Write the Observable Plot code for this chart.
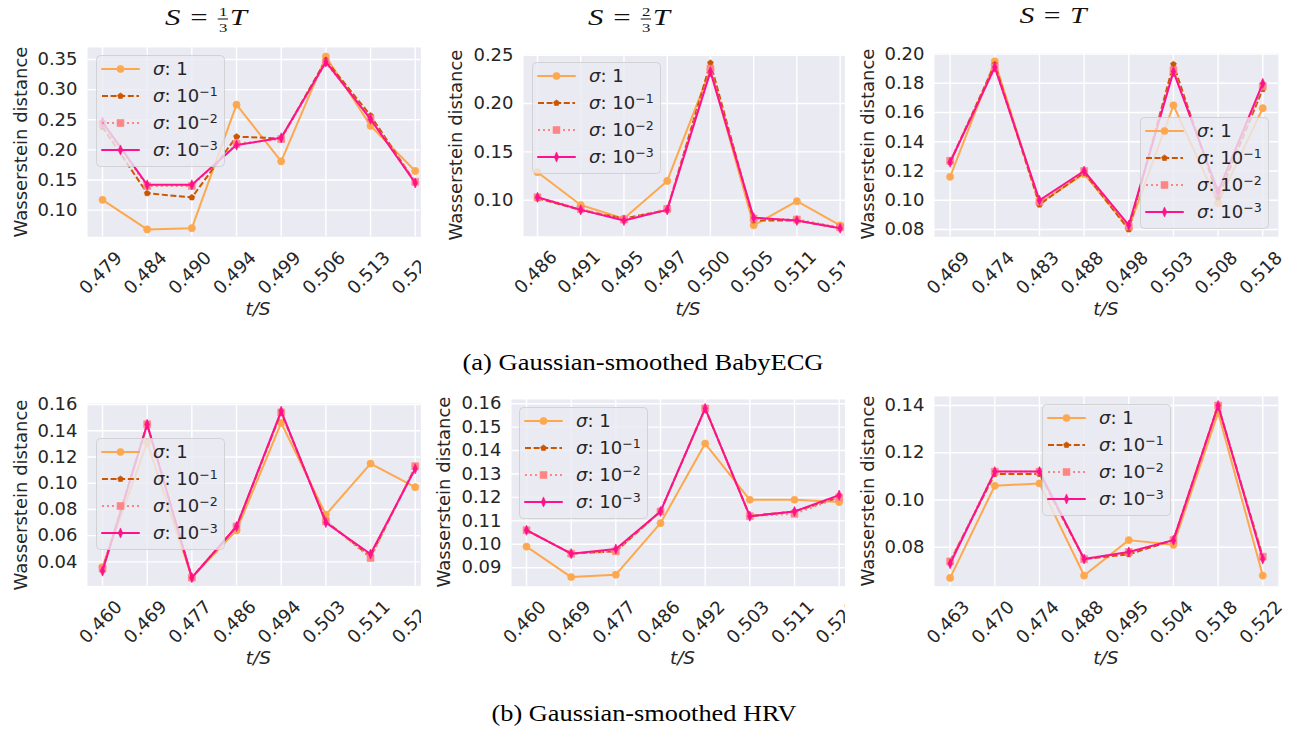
<!DOCTYPE html>
<html>
<head>
<meta charset="utf-8">
<script src="https://cdn.jsdelivr.net/npm/d3@7"></script>
<script src="https://cdn.jsdelivr.net/npm/@observablehq/plot@0.6"></script>
<style>
  html, body { margin: 0; padding: 0; background: #fff; }
  #root { position: relative; width: 1302px; height: 732px; overflow: hidden; background: #fff; font-family: "DejaVu Sans", sans-serif; color: #262626; }
  .ylab { position: absolute; font-size: 18px; line-height: 1; white-space: nowrap; transform: translate(-50%, -50%) rotate(-90deg); }
  .xlab { position: absolute; font-size: 18.5px; line-height: 1; white-space: nowrap; font-style: italic; transform: translate(-50%, -50%); }
  .title { position: absolute; display: flex; align-items: center; font-family: "Liberation Serif", serif; font-size: 24px; line-height: 1; white-space: nowrap; color: #111; }
  .title .frac { display: inline-flex; flex-direction: column; align-items: center; font-size: 13px; line-height: 1; margin: 6px 1px 0 0; }
  .title .frac .num { border-bottom: 0.7px solid #111; padding: 0 1px 1px; }
  .title .frac .den { padding-top: 1px; }
  .caption { position: absolute; font-family: "Liberation Serif", serif; font-size: 24px; line-height: 1; white-space: nowrap; color: #000; }
</style>
</head>
<body>
<div id="root"></div>
<script>
// ---------------- data ----------------
const xLabels1 = ["0.479","0.484","0.490","0.494","0.499","0.506","0.513","0.520"];
const xLabels2 = ["0.486","0.491","0.495","0.497","0.500","0.505","0.511","0.516"];
const xLabels3 = ["0.469","0.474","0.483","0.488","0.498","0.503","0.508","0.518"];
const xLabels4 = ["0.460","0.469","0.477","0.486","0.494","0.503","0.511","0.520"];
const xLabels5 = ["0.460","0.469","0.477","0.486","0.492","0.503","0.511","0.520"];
const xLabels6 = ["0.463","0.470","0.474","0.488","0.495","0.504","0.518","0.522"];

const yTicks1 = [0.10, 0.15, 0.20, 0.25, 0.30, 0.35];
const yTicks2 = [0.10, 0.15, 0.20, 0.25];
const yTicks3 = [0.08, 0.10, 0.12, 0.14, 0.16, 0.18, 0.20];
const yTicks4 = [0.04, 0.06, 0.08, 0.10, 0.12, 0.14, 0.16];
const yTicks5 = [0.09, 0.10, 0.11, 0.12, 0.13, 0.14, 0.15, 0.16];
const yTicks6 = [0.08, 0.10, 0.12, 0.14];

const sigmaLabels = ["1", "10", "10", "10"];
const sigmaExponents = ["", "\u22121", "\u22122", "\u22123"];

// (a) BabyECG, S = 1/3 T
const p1s1 = [0.117, 0.068, 0.070, 0.275, 0.181, 0.355, 0.240, 0.165];
const p1s2 = [0.238, 0.128, 0.121, 0.222, 0.219, 0.349, 0.257, 0.146];
const p1s3 = [0.243, 0.140, 0.140, 0.210, 0.218, 0.345, 0.252, 0.147];
const p1s4 = [0.246, 0.142, 0.142, 0.208, 0.220, 0.346, 0.251, 0.145];
// (a) BabyECG, S = 2/3 T
const p2s1 = [0.129, 0.095, 0.081, 0.120, 0.235, 0.074, 0.099, 0.074];
const p2s2 = [0.102, 0.090, 0.081, 0.090, 0.242, 0.079, 0.079, 0.071];
const p2s3 = [0.103, 0.091, 0.080, 0.091, 0.236, 0.081, 0.080, 0.072];
const p2s4 = [0.103, 0.090, 0.079, 0.090, 0.233, 0.082, 0.079, 0.071];
// (a) BabyECG, S = T
const p3s1 = [0.116, 0.195, 0.098, 0.118, 0.081, 0.165, 0.098, 0.163];
const p3s2 = [0.126, 0.193, 0.097, 0.119, 0.080, 0.193, 0.102, 0.176];
const p3s3 = [0.127, 0.191, 0.099, 0.120, 0.082, 0.189, 0.105, 0.178];
const p3s4 = [0.126, 0.191, 0.100, 0.120, 0.083, 0.188, 0.106, 0.180];
// (b) HRV, S = 1/3 T
const p4s1 = [0.036, 0.131, 0.028, 0.064, 0.146, 0.076, 0.115, 0.097];
const p4s2 = [0.034, 0.145, 0.028, 0.067, 0.154, 0.071, 0.044, 0.112];
const p4s3 = [0.035, 0.145, 0.028, 0.067, 0.154, 0.071, 0.043, 0.113];
const p4s4 = [0.033, 0.145, 0.028, 0.067, 0.155, 0.070, 0.046, 0.111];
// (b) HRV, S = 2/3 T
const p5s1 = [0.099, 0.086, 0.087, 0.109, 0.143, 0.119, 0.119, 0.118];
const p5s2 = [0.106, 0.096, 0.097, 0.114, 0.158, 0.112, 0.114, 0.120];
const p5s3 = [0.106, 0.096, 0.097, 0.114, 0.158, 0.112, 0.113, 0.120];
const p5s4 = [0.106, 0.096, 0.098, 0.114, 0.158, 0.112, 0.114, 0.121];
// (b) HRV, S = T
const p6s1 = [0.067, 0.106, 0.107, 0.068, 0.083, 0.081, 0.137, 0.068];
const p6s2 = [0.074, 0.111, 0.111, 0.075, 0.077, 0.083, 0.140, 0.076];
const p6s3 = [0.074, 0.112, 0.112, 0.075, 0.078, 0.083, 0.140, 0.076];
const p6s4 = [0.073, 0.112, 0.112, 0.075, 0.078, 0.083, 0.140, 0.075];

// ---------------- styles ----------------
const pentagon = { draw(ctx, size) {
  const r = Math.sqrt(size / Math.PI);
  for (let k = 0; k < 5; k++) {
    const a = -Math.PI / 2 + k * 2 * Math.PI / 5;
    const x = r * Math.cos(a), y = r * Math.sin(a);
    if (k) ctx.lineTo(x, y); else ctx.moveTo(x, y);
  }
  ctx.closePath();
}};
const thinDiamond = { draw(ctx, size) {
  const r = Math.sqrt(size / Math.PI);
  ctx.moveTo(0, -r * 1.3); ctx.lineTo(r * 0.58, 0); ctx.lineTo(0, r * 1.3); ctx.lineTo(-r * 0.58, 0); ctx.closePath();
}};
const STYLES = [
  { color: "#fda84e", width: 2, dash: null,    cap: "round", symbol: "circle", d3sym: d3.symbolCircle, r: 3.6 },
  { color: "#cc5500", width: 2, dash: "6,2.6", cap: "butt",  symbol: pentagon, d3sym: pentagon,        r: 3.1 },
  { color: "#ff8585", width: 2, dash: "2,3",   cap: "butt",  symbol: "square", d3sym: d3.symbolSquare, r: 3.9 },
  { color: "#ff108c", width: 2, dash: null,    cap: "round", symbol: thinDiamond, d3sym: thinDiamond,  r: 3.9 }
];

const ML = 85, MT = 18, MB = 75;
const panels = [
  { labels: xLabels1, series: [p1s1, p1s2, p1s3, p1s4], yTicks: yTicks1, xDomain: [-0.336, 7.127], yDomain: [0.0557, 0.370],  frame: [87.3, 46.7, 420.7, 236],   mr: 0,  legend: [95.7, 55],    ylab: [20.5, 141.5],  xlab: [258, 308.5] },
  { labels: xLabels2, series: [p2s1, p2s2, p2s3, p2s4], yTicks: yTicks2, xDomain: [-0.324, 7.131], yDomain: [0.0628, 0.2507], frame: [522.7, 54.3, 845, 236],   mr: 0,  legend: [531.7, 62.3], ylab: [455.8, 145.2], xlab: [688, 308.5] },
  { labels: xLabels3, series: [p3s1, p3s2, p3s3, p3s4], yTicks: yTicks3, xDomain: [-0.35, 7.35],   yDomain: [0.075, 0.2004],  frame: [933.7, 52.7, 1277.6, 236], mr: 24, legend: [1140, 116.7], ylab: [867.5, 144.4], xlab: [1105.8, 308.5] },
  { labels: xLabels4, series: [p4s1, p4s2, p4s3, p4s4], yTicks: yTicks4, xDomain: [-0.336, 7.127], yDomain: [0.0217, 0.1608], frame: [87.3, 403.3, 420.7, 585.7], mr: 0,  legend: [95.7, 438.3], ylab: [20.5, 494.5],  xlab: [258.3, 657.5] },
  { labels: xLabels5, series: [p5s1, p5s2, p5s3, p5s4], yTicks: yTicks5, xDomain: [-0.336, 7.142], yDomain: [0.0821, 0.1618], frame: [511, 399, 845, 585.7],     mr: 0,  legend: [519.3, 407.3], ylab: [444, 492.3],  xlab: [682.5, 657.5] },
  { labels: xLabels6, series: [p6s1, p6s2, p6s3, p6s4], yTicks: yTicks6, xDomain: [-0.35, 7.35],   yDomain: [0.0635, 0.1438], frame: [933.7, 396, 1277.6, 585.7], mr: 24, legend: [1041.7, 404.3], ylab: [867.5, 490.8], xlab: [1105.8, 657.5] }
];

const root = document.getElementById("root");

function makePanel(p) {
  const [L, T, R, B] = p.frame;
  const idx = d3.range(p.labels.length);
  const marks = [
    Plot.frame({ fill: "#eaeaf2", stroke: null }),
    Plot.gridY(p.yTicks, { stroke: "#ffffff", strokeOpacity: 1, strokeWidth: 1.4 }),
    Plot.gridX(idx, { stroke: "#ffffff", strokeOpacity: 1, strokeWidth: 1.4 }),
    Plot.axisY(p.yTicks, { tickSize: 0, tickPadding: 10, fontSize: 18, tickFormat: d3.format(".2f"), label: null, fill: "#262626" }),
    Plot.text(idx, { x: d => d, text: d => p.labels[d], frameAnchor: "bottom", rotate: -45, textAnchor: "end", lineAnchor: "middle", dx: 16.5, dy: 18, fontSize: 18, fill: "#262626" })
  ];
  STYLES.forEach((st, s) => {
    const data = p.series[s].map((v, i) => ({ i, v }));
    marks.push(Plot.line(data, { x: "i", y: "v", stroke: st.color, strokeWidth: st.width, strokeDasharray: st.dash, strokeLinecap: st.cap, strokeLinejoin: "round" }));
    marks.push(Plot.dot(data, { x: "i", y: "v", symbol: st.symbol, r: st.r, fill: st.color, stroke: st.color, strokeWidth: 0.6 }));
  });
  const svg = Plot.plot({
    width: (R - L) + ML + p.mr,
    height: (B - T) + MT + MB,
    marginLeft: ML, marginRight: p.mr, marginTop: MT, marginBottom: MB,
    x: { domain: p.xDomain, axis: null },
    y: { domain: p.yDomain },
    style: { background: "transparent", overflow: "hidden", fontFamily: "DejaVu Sans", color: "#262626" },
    marks
  });
  svg.style.position = "absolute";
  svg.style.left = (L - ML) + "px";
  svg.style.top = (T - MT) + "px";
  root.appendChild(svg);

  // legend
  const [lx, ly] = p.legend;
  const lg = d3.create("svg").attr("width", 130).attr("height", 113)
    .style("position", "absolute").style("left", lx + "px").style("top", ly + "px").style("overflow", "visible");
  lg.append("rect").attr("x", 0.5).attr("y", 0.5).attr("width", 128).attr("height", 111).attr("rx", 4)
    .attr("fill", "#eaeaf2").attr("fill-opacity", 0.8).attr("stroke", "#cccccc").attr("stroke-opacity", 0.8).attr("stroke-width", 1);
  STYLES.forEach((st, k) => {
    const cy = 14 + 27 * k;
    lg.append("line").attr("x1", 6).attr("x2", 43).attr("y1", cy).attr("y2", cy)
      .attr("stroke", st.color).attr("stroke-width", st.width).attr("stroke-dasharray", st.dash).attr("stroke-linecap", st.cap);
    lg.append("path").attr("transform", `translate(24.5,${cy})`).attr("d", d3.symbol(st.d3sym, Math.PI * st.r * st.r)())
      .attr("fill", st.color).attr("stroke", st.color).attr("stroke-width", 0.6);
    const t = lg.append("text").attr("x", 57).attr("y", cy).attr("dy", "0.36em")
      .attr("font-family", "DejaVu Sans").attr("font-size", 18).attr("fill", "#262626");
    t.append("tspan").attr("font-style", "italic").text("\u03c3");
    t.append("tspan").text(": " + sigmaLabels[k]);
    if (sigmaExponents[k]) t.append("tspan").attr("font-size", 12.6).attr("dy", -6.5).text(sigmaExponents[k]);
  });
  root.appendChild(lg.node());

  const yl = document.createElement("div");
  yl.className = "ylab"; yl.textContent = "Wasserstein distance";
  yl.style.left = p.ylab[0] + "px"; yl.style.top = p.ylab[1] + "px";
  root.appendChild(yl);
  const xl = document.createElement("div");
  xl.className = "xlab"; xl.textContent = "t/S";
  xl.style.left = p.xlab[0] + "px"; xl.style.top = p.xlab[1] + "px";
  root.appendChild(xl);
}
panels.forEach(makePanel);

function fitCentered(el, cx, cy, targetW) {
  root.appendChild(el);
  el.style.left = cx + "px"; el.style.top = cy + "px";
  const w = el.getBoundingClientRect().width;
  const k = targetW / w;
  el.style.transform = `translate(-50%, -50%) scaleX(${k})`;
}

function makeTitle(html, cx, cy, w) {
  const el = document.createElement("div");
  el.className = "title"; el.innerHTML = html;
  fitCentered(el, cx, cy, w);
}
const frac = (n, d) => `<span class="frac"><span class="num">${n}</span><span class="den">${d}</span></span>`;
makeTitle(`<i>S</i><span style="margin:0 0.32em">=</span>${frac(1, 3)}<i>T</i>`, 206, 16, 82);
makeTitle(`<i>S</i><span style="margin:0 0.32em">=</span>${frac(2, 3)}<i>T</i>`, 629, 16, 82);
makeTitle(`<i>S</i><span style="margin:0 0.32em">=</span><i>T</i>`, 1053, 15, 67);

function makeCaption(text, cx, cy, w) {
  const el = document.createElement("div");
  el.className = "caption"; el.textContent = text;
  fitCentered(el, cx, cy, w);
}
makeCaption("(a) Gaussian-smoothed BabyECG", 643.3, 362, 361);
makeCaption("(b) Gaussian-smoothed HRV", 644.2, 713, 305);
</script>
</body>
</html>
